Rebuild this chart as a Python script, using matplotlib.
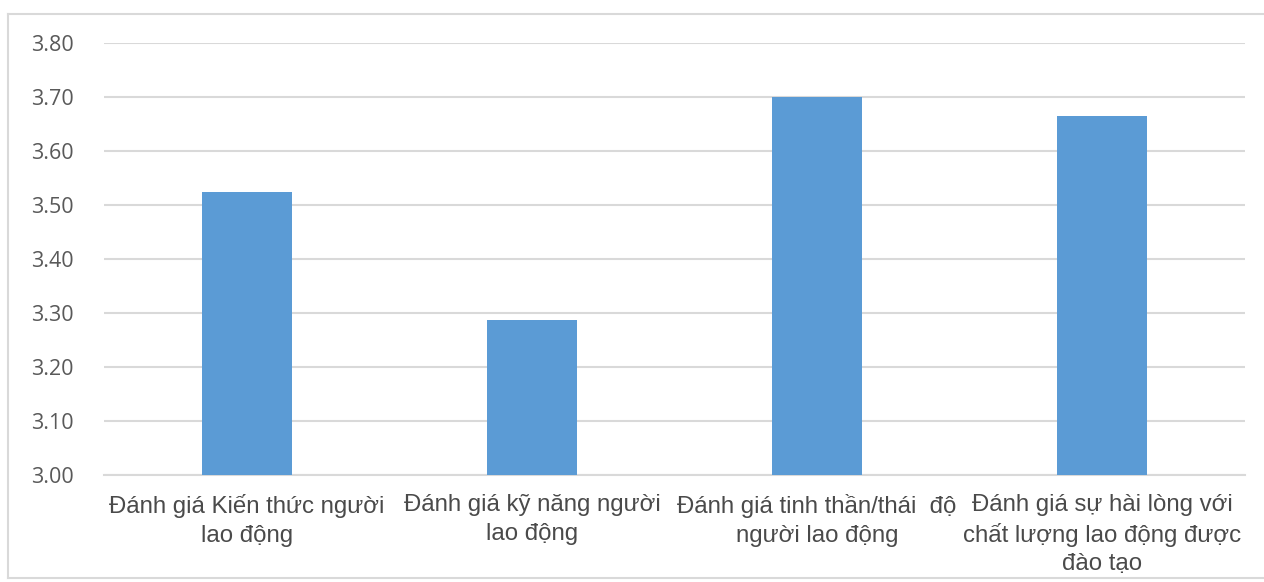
import matplotlib
matplotlib.use("Agg")
import matplotlib.pyplot as plt
from matplotlib.lines import Line2D

categories = [
    "Đánh giá Kiến thức người\nlao động",
    "Đánh giá kỹ năng người\nlao động",
    "Đánh giá tinh thần/thái  độ\nngười lao động",
    "Đánh giá sự hài lòng với\nchất lượng lao động được\nđào tạo",
]
scores = [3.525, 3.288, 3.70, 3.666]
y_ticks = [3.00, 3.10, 3.20, 3.30, 3.40, 3.50, 3.60, 3.70, 3.80]

W, H = 1264, 582
fig = plt.figure(figsize=(W / 100, H / 100), dpi=100)
fig.patch.set_facecolor("white")

# chart-area frame: top, left and bottom edges
frame_kw = dict(transform=fig.transFigure, color="#d9d9d9", linewidth=1.5)
left, top, bottom = 8 / W, 1 - 14 / H, 1 - 578 / H
fig.add_artist(Line2D([left, 1.0], [top, top], **frame_kw))
fig.add_artist(Line2D([left, left], [bottom, top], **frame_kw))
fig.add_artist(Line2D([left, 1.0], [bottom, bottom], **frame_kw))

ax = fig.add_axes([104 / W, 1 - 475 / H, (1245 - 104) / W, (475 - 43.3) / H])
x = range(len(categories))
ax.bar(x, scores, width=0.316, color="#5b9bd5", zorder=3)

ax.set_xlim(-0.5, len(categories) - 0.5)
ax.set_ylim(3.0, 3.8)
ax.set_yticks(y_ticks)
ax.set_yticklabels([f"{v:.2f}" for v in y_ticks], fontsize=15.5,
                   color="#595959", family="Open Sans")
ax.set_xticks(list(x))
ax.set_xticklabels(categories, fontsize=17.3, color="#4a4a4a",
                   family="Liberation Sans", linespacing=1.36)

ax.grid(axis="y", color="#d9d9d9", linewidth=1.5, zorder=0)
for s in ["top", "right", "left"]:
    ax.spines[s].set_visible(False)
ax.spines["bottom"].set_color("#d9d9d9")
ax.spines["bottom"].set_linewidth(1.5)
ax.tick_params(axis="y", length=0, pad=22)
ax.tick_params(axis="x", length=0, pad=14)

fig.savefig("out.png", dpi=100)
